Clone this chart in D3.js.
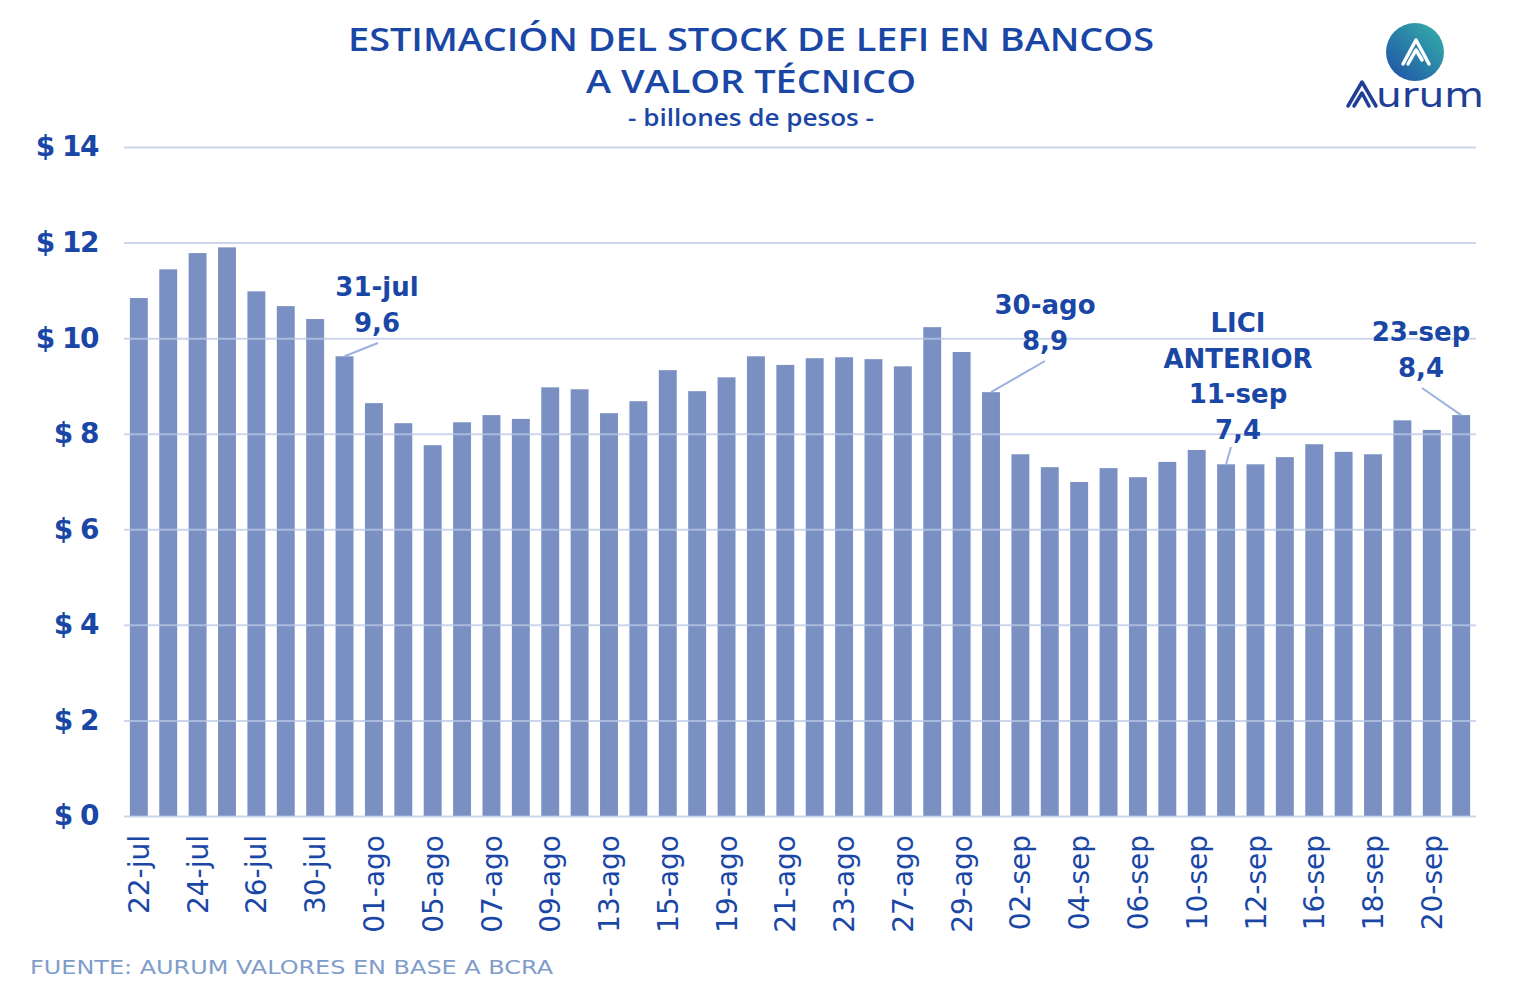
<!DOCTYPE html>
<html><head><meta charset="utf-8">
<script src="https://cdn.jsdelivr.net/npm/d3@7"></script>
<style>body{margin:0;background:#fff;} svg{display:block;}</style>
</head><body>
<svg id="chart" width="1526" height="999"></svg>
<script>
const dates = ["22-jul","23-jul","24-jul","25-jul","26-jul","29-jul","30-jul","31-jul",
"01-ago","02-ago","05-ago","06-ago","07-ago","08-ago","09-ago","12-ago","13-ago","14-ago","15-ago","16-ago",
"19-ago","20-ago","21-ago","22-ago","23-ago","26-ago","27-ago","28-ago","29-ago","30-ago",
"02-sep","03-sep","04-sep","05-sep","06-sep","09-sep","10-sep","11-sep","12-sep","13-sep",
"16-sep","17-sep","18-sep","19-sep","20-sep","23-sep"];
const stock = [10.84,11.44,11.78,11.90,10.98,10.67,10.40,9.62,
8.64,8.22,7.76,8.24,8.39,8.31,8.97,8.93,8.43,8.68,9.33,8.89,
9.18,9.62,9.44,9.58,9.60,9.56,9.41,10.23,9.71,8.87,
7.57,7.30,6.99,7.28,7.09,7.41,7.66,7.36,7.36,7.51,
7.78,7.62,7.57,8.28,8.08,8.39];
const yTicks = [0,2,4,6,8,10,12,14];
const tickLabels = yTicks.map(v => "$ " + v);
const annotations = [
  {date:"31-jul", lines:["31-jul","9,6"], tx:377, ty:287, lx:378, ly:343},
  {date:"30-ago", lines:["30-ago","8,9"], tx:1045, ty:305, lx:1045, ly:361},
  {date:"11-sep", lines:["LICI","ANTERIOR","11-sep","7,4"], tx:1238, ty:323, lx:1231, ly:447},
  {date:"23-sep", lines:["23-sep","8,4"], tx:1421, ty:332, lx:1422, ly:388}
];

const svg = d3.select("#chart");
const font = "'DejaVu Sans', sans-serif";
const tfont = "'Open Sans', 'DejaVu Sans', sans-serif";
const blue = "#1a47a6";
const x0 = 124, x1 = 1476, yTop = 147, yBot = 816;

const x = d3.scaleBand().domain(dates).range([x0, x1]).paddingInner(0.39).paddingOuter(0.2);
const y = d3.scaleLinear().domain([0,14]).range([yBot, yTop]);

// bars
svg.append("g").selectAll("rect").data(dates).join("rect")
  .attr("x", d => x(d)).attr("width", x.bandwidth())
  .attr("y", (d,i) => y(stock[i])).attr("height", (d,i) => y(0) - y(stock[i]))
  .attr("fill", "#7b90c2");

// gridlines (on top, translucent)
const yAxis = d3.axisLeft(y).tickValues(yTicks).tickSize(-(x1 - x0)).tickFormat((d,i) => tickLabels[i]);
const gy = svg.append("g").attr("transform", `translate(${x0},0)`).call(yAxis);
gy.select(".domain").remove();
gy.selectAll(".tick line").attr("stroke", "#b9c8e6").attr("stroke-width", 2).attr("stroke-opacity", 0.75);
gy.selectAll(".tick text").attr("x", -26).attr("fill", blue)
  .style("font-family", font).style("font-size", "28px").style("font-weight", "600")
  .style("letter-spacing", "-1.5px");

// x axis
const xAxis = d3.axisBottom(x).tickValues(dates.filter((d,i) => i % 2 === 0)).tickSize(0);
const gx = svg.append("g").attr("transform", `translate(0,${yBot})`).call(xAxis);
gx.select(".domain").remove();
gx.selectAll(".tick text")
  .attr("transform", "rotate(-90)").attr("text-anchor", "end")
  .attr("x", -19).attr("y", 0).attr("dy", "0.36em")
  .attr("fill", blue).style("font-family", font).style("font-size", "28px");

// titles
const title = svg.append("g").attr("fill", blue).style("font-family", tfont).attr("text-anchor", "middle");
title.append("text").attr("x", 751).attr("y", 51).style("font-size", "32px").style("font-weight", "600")
  .attr("textLength", 806).attr("lengthAdjust", "spacingAndGlyphs").text("ESTIMACIÓN DEL STOCK DE LEFI EN BANCOS");
title.append("text").attr("x", 751).attr("y", 93).style("font-size", "32px").style("font-weight", "600")
  .attr("textLength", 330).attr("lengthAdjust", "spacingAndGlyphs").text("A VALOR TÉCNICO");
title.append("text").attr("x", 751).attr("y", 126).style("font-size", "23px").style("font-weight", "600")
  .attr("textLength", 246).attr("lengthAdjust", "spacingAndGlyphs").text("- billones de pesos -");

// annotations
const ann = svg.append("g");
annotations.forEach(a => {
  const i = dates.indexOf(a.date);
  const bx = x(a.date) + x.bandwidth()/2;
  const by = y(stock[i]);
  ann.append("line").attr("x1", bx).attr("y1", by)
    .attr("x2", a.lx).attr("y2", a.ly).attr("stroke", "#9db0e0").attr("stroke-width", 2);
  a.lines.forEach((t, k) => {
    ann.append("text").attr("x", a.tx).attr("y", a.ty + k * 35.5).attr("dy", "0.35em")
      .attr("text-anchor", "middle").attr("fill", blue)
      .style("font-family", font).style("font-size", "26px").style("font-weight", "600").text(t);
  });
});

// footer
svg.append("text").attr("x", 30).attr("y", 974).attr("fill", "#7f9dcb")
  .style("font-family", font).style("font-size", "20px")
  .attr("textLength", 523).attr("lengthAdjust", "spacingAndGlyphs")
  .text("FUENTE: AURUM VALORES EN BASE A BCRA");

// logo
const defs = svg.append("defs");
const grad = defs.append("linearGradient").attr("id", "lg").attr("x1", "0").attr("y1", "1").attr("x2", "1").attr("y2", "0");
grad.append("stop").attr("offset", "0").attr("stop-color", "#1e4ea8");
grad.append("stop").attr("offset", "1").attr("stop-color", "#35b3a8");
const logo = svg.append("g");
logo.append("circle").attr("cx", 1415).attr("cy", 52).attr("r", 29).attr("fill", "url(#lg)");
logo.append("path").attr("d", "M1403,64 L1416,40 L1429,64 M1408,64 L1416,50 L1422,60")
  .attr("fill", "none").attr("stroke", "#fff").attr("stroke-width", 3.5)
  .attr("stroke-linejoin", "round").attr("stroke-linecap", "round");
logo.append("path").attr("d", "M1348,106 L1362,82 L1376,106 M1354,106 L1362,93 L1369,106")
  .attr("fill", "none").attr("stroke", "#1f3f96").attr("stroke-width", 3.5)
  .attr("stroke-linejoin", "round").attr("stroke-linecap", "round");
logo.append("text").attr("x", 1376).attr("y", 107).attr("fill", "#1f3f96")
  .style("font-family", font).style("font-size", "34px")
  .attr("textLength", 108).attr("lengthAdjust", "spacingAndGlyphs").text("urum");
</script>
</body></html>
